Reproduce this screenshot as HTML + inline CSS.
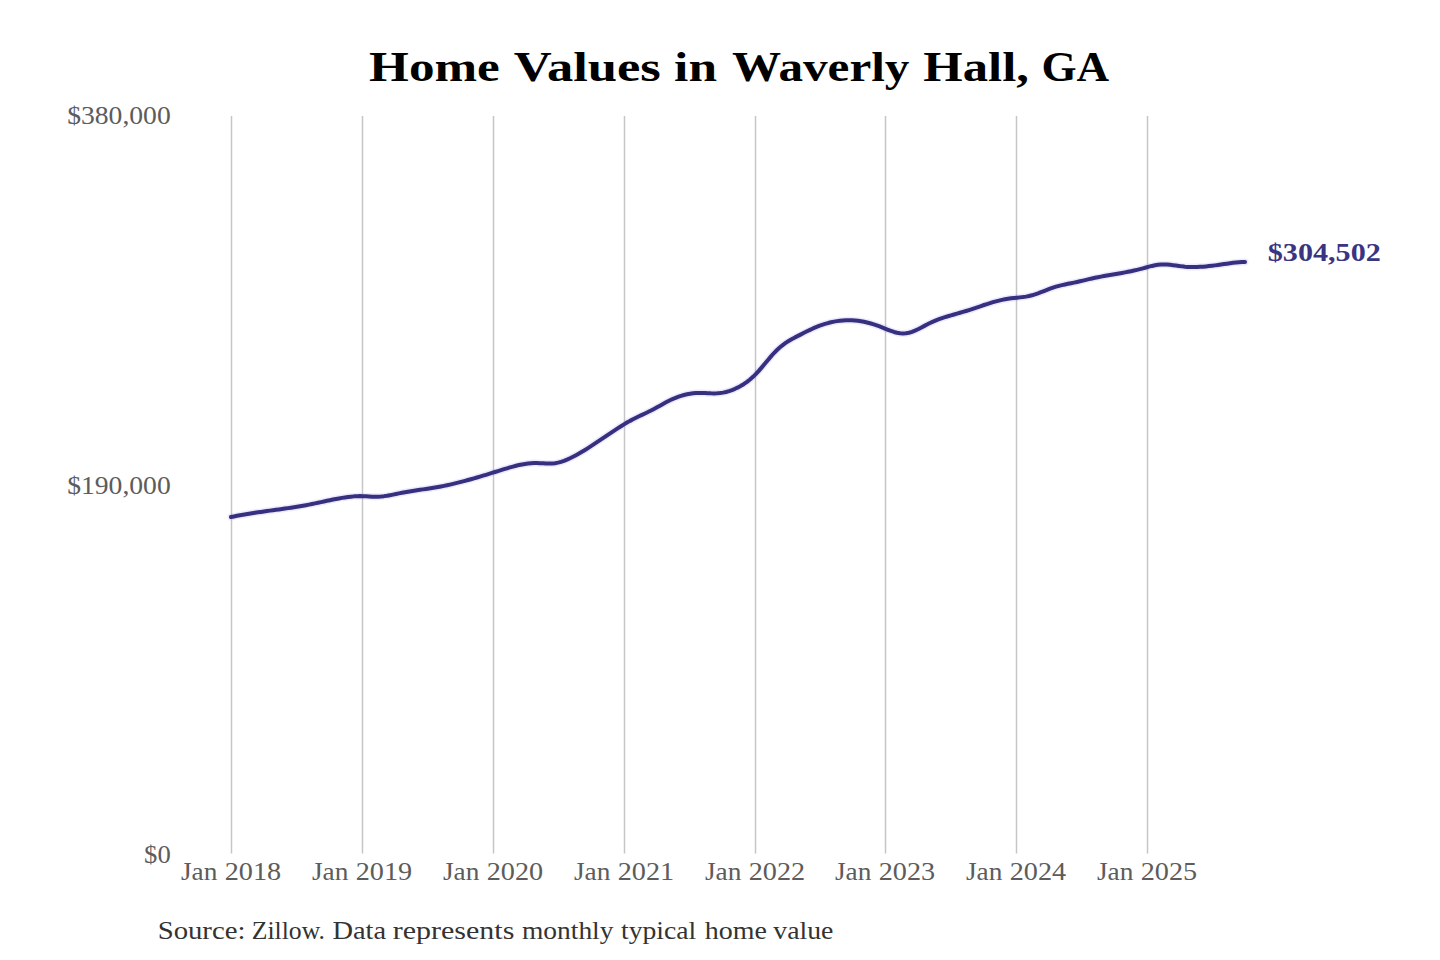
<!DOCTYPE html>
<html><head><meta charset="utf-8"><style>
html,body{margin:0;padding:0;background:#fff;width:1440px;height:960px;overflow:hidden}
svg{position:absolute;left:0;top:0;display:block}
text{font-family:"Liberation Serif", serif}
</style></head><body>
<svg width="1440" height="960" viewBox="0 0 1440 960">
<rect width="1440" height="960" fill="#fff"/>
<text x="369.11" y="81.2" font-size="43" font-weight="bold" fill="#000" textLength="130.71" lengthAdjust="spacingAndGlyphs">Home</text>
<text x="513.79" y="81.2" font-size="43" font-weight="bold" fill="#000" textLength="146.99" lengthAdjust="spacingAndGlyphs">Values</text>
<text x="674.11" y="81.2" font-size="43" font-weight="bold" fill="#000" textLength="42.84" lengthAdjust="spacingAndGlyphs">in</text>
<text x="731.93" y="81.2" font-size="43" font-weight="bold" fill="#000" textLength="177.54" lengthAdjust="spacingAndGlyphs">Waverly</text>
<text x="923.32" y="81.2" font-size="43" font-weight="bold" fill="#000" textLength="105.56" lengthAdjust="spacingAndGlyphs">Hall,</text>
<text x="1041.50" y="81.2" font-size="43" font-weight="bold" fill="#000" textLength="67.66" lengthAdjust="spacingAndGlyphs">GA</text>
<line x1="231.5" y1="116" x2="231.5" y2="853.5" stroke="#c6c6c6" stroke-width="1.5"/>
<line x1="362.5" y1="116" x2="362.5" y2="853.5" stroke="#c6c6c6" stroke-width="1.5"/>
<line x1="493.5" y1="116" x2="493.5" y2="853.5" stroke="#c6c6c6" stroke-width="1.5"/>
<line x1="624.5" y1="116" x2="624.5" y2="853.5" stroke="#c6c6c6" stroke-width="1.5"/>
<line x1="755.5" y1="116" x2="755.5" y2="853.5" stroke="#c6c6c6" stroke-width="1.5"/>
<line x1="885.5" y1="116" x2="885.5" y2="853.5" stroke="#c6c6c6" stroke-width="1.5"/>
<line x1="1016.5" y1="116" x2="1016.5" y2="853.5" stroke="#c6c6c6" stroke-width="1.5"/>
<line x1="1147.5" y1="116" x2="1147.5" y2="853.5" stroke="#c6c6c6" stroke-width="1.5"/>
<text x="67.20" y="124.2" font-size="25" font-weight="normal" fill="#5c5c5c" textLength="103.51" lengthAdjust="spacingAndGlyphs">$380,000</text>
<text x="67.20" y="494.2" font-size="25" font-weight="normal" fill="#5c5c5c" textLength="103.51" lengthAdjust="spacingAndGlyphs">$190,000</text>
<text x="144.13" y="863.4" font-size="25" font-weight="normal" fill="#5c5c5c" textLength="26.63" lengthAdjust="spacingAndGlyphs">$0</text>
<text x="180.95" y="879.6" font-size="25" font-weight="normal" fill="#5c5c5c" textLength="36.40" lengthAdjust="spacingAndGlyphs">Jan</text>
<text x="224.67" y="879.6" font-size="25" font-weight="normal" fill="#5c5c5c" textLength="56.46" lengthAdjust="spacingAndGlyphs">2018</text>
<text x="311.95" y="879.6" font-size="25" font-weight="normal" fill="#5c5c5c" textLength="36.40" lengthAdjust="spacingAndGlyphs">Jan</text>
<text x="355.67" y="879.6" font-size="25" font-weight="normal" fill="#5c5c5c" textLength="56.46" lengthAdjust="spacingAndGlyphs">2019</text>
<text x="442.95" y="879.6" font-size="25" font-weight="normal" fill="#5c5c5c" textLength="36.40" lengthAdjust="spacingAndGlyphs">Jan</text>
<text x="486.67" y="879.6" font-size="25" font-weight="normal" fill="#5c5c5c" textLength="56.46" lengthAdjust="spacingAndGlyphs">2020</text>
<text x="573.95" y="879.6" font-size="25" font-weight="normal" fill="#5c5c5c" textLength="36.40" lengthAdjust="spacingAndGlyphs">Jan</text>
<text x="617.67" y="879.6" font-size="25" font-weight="normal" fill="#5c5c5c" textLength="56.46" lengthAdjust="spacingAndGlyphs">2021</text>
<text x="704.95" y="879.6" font-size="25" font-weight="normal" fill="#5c5c5c" textLength="36.40" lengthAdjust="spacingAndGlyphs">Jan</text>
<text x="748.67" y="879.6" font-size="25" font-weight="normal" fill="#5c5c5c" textLength="56.46" lengthAdjust="spacingAndGlyphs">2022</text>
<text x="834.95" y="879.6" font-size="25" font-weight="normal" fill="#5c5c5c" textLength="36.40" lengthAdjust="spacingAndGlyphs">Jan</text>
<text x="878.67" y="879.6" font-size="25" font-weight="normal" fill="#5c5c5c" textLength="56.46" lengthAdjust="spacingAndGlyphs">2023</text>
<text x="965.95" y="879.6" font-size="25" font-weight="normal" fill="#5c5c5c" textLength="36.40" lengthAdjust="spacingAndGlyphs">Jan</text>
<text x="1009.67" y="879.6" font-size="25" font-weight="normal" fill="#5c5c5c" textLength="56.46" lengthAdjust="spacingAndGlyphs">2024</text>
<text x="1096.95" y="879.6" font-size="25" font-weight="normal" fill="#5c5c5c" textLength="36.40" lengthAdjust="spacingAndGlyphs">Jan</text>
<text x="1140.67" y="879.6" font-size="25" font-weight="normal" fill="#5c5c5c" textLength="56.46" lengthAdjust="spacingAndGlyphs">2025</text>
<path d="M231.0,517.04 L234.0,516.42 L237.0,515.83 L240.0,515.26 L243.0,514.72 L246.0,514.21 L249.0,513.71 L252.0,513.24 L255.0,512.78 L258.0,512.33 L261.0,511.90 L264.0,511.47 L267.0,511.05 L270.0,510.64 L273.0,510.23 L276.0,509.82 L279.0,509.40 L282.0,508.98 L285.0,508.56 L288.0,508.12 L291.0,507.67 L294.0,507.21 L297.0,506.74 L300.0,506.24 L303.0,505.72 L306.0,505.18 L309.0,504.61 L312.0,504.02 L315.0,503.40 L318.0,502.76 L321.0,502.11 L324.0,501.46 L327.0,500.82 L330.0,500.18 L333.0,499.57 L336.0,498.98 L339.0,498.42 L342.0,497.90 L345.0,497.42 L348.0,497.00 L351.0,496.65 L354.0,496.37 L357.0,496.19 L360.0,496.12 L363.0,496.19 L366.0,496.37 L369.0,496.59 L372.0,496.77 L375.0,496.83 L378.0,496.73 L381.0,496.49 L384.0,496.14 L387.0,495.70 L390.0,495.18 L393.0,494.61 L396.0,494.00 L399.0,493.38 L402.0,492.77 L405.0,492.19 L408.0,491.66 L411.0,491.16 L414.0,490.69 L417.0,490.25 L420.0,489.82 L423.0,489.39 L426.0,488.96 L429.0,488.52 L432.0,488.06 L435.0,487.57 L438.0,487.04 L441.0,486.48 L444.0,485.88 L447.0,485.25 L450.0,484.59 L453.0,483.89 L456.0,483.17 L459.0,482.42 L462.0,481.65 L465.0,480.86 L468.0,480.04 L471.0,479.21 L474.0,478.35 L477.0,477.48 L480.0,476.60 L483.0,475.70 L486.0,474.79 L489.0,473.88 L492.0,472.95 L495.0,472.02 L498.0,471.08 L501.0,470.15 L504.0,469.21 L507.0,468.29 L510.0,467.41 L513.0,466.57 L516.0,465.78 L519.0,465.07 L522.0,464.44 L525.0,463.92 L528.0,463.50 L531.0,463.22 L534.0,463.07 L537.0,463.08 L540.0,463.20 L543.0,463.37 L546.0,463.52 L549.0,463.58 L552.0,463.50 L555.0,463.20 L558.0,462.63 L561.0,461.82 L564.0,460.79 L567.0,459.58 L570.0,458.22 L573.0,456.74 L576.0,455.17 L579.0,453.51 L582.0,451.76 L585.0,449.95 L588.0,448.07 L591.0,446.15 L594.0,444.18 L597.0,442.18 L600.0,440.16 L603.0,438.13 L606.0,436.09 L609.0,434.06 L612.0,432.05 L615.0,430.07 L618.0,428.12 L621.0,426.22 L624.0,424.37 L627.0,422.59 L630.0,420.88 L633.0,419.26 L636.0,417.73 L639.0,416.27 L642.0,414.85 L645.0,413.45 L648.0,412.02 L651.0,410.54 L654.0,408.97 L657.0,407.33 L660.0,405.65 L663.0,403.96 L666.0,402.32 L669.0,400.75 L672.0,399.31 L675.0,398.01 L678.0,396.86 L681.0,395.86 L684.0,395.01 L687.0,394.31 L690.0,393.76 L693.0,393.35 L696.0,393.09 L699.0,392.98 L702.0,393.00 L705.0,393.11 L708.0,393.24 L711.0,393.36 L714.0,393.40 L717.0,393.33 L720.0,393.08 L723.0,392.62 L726.0,391.96 L729.0,391.10 L732.0,390.05 L735.0,388.81 L738.0,387.40 L741.0,385.78 L744.0,383.94 L747.0,381.86 L750.0,379.51 L753.0,376.87 L756.0,373.92 L759.0,370.65 L762.0,367.16 L765.0,363.54 L768.0,359.91 L771.0,356.37 L774.0,353.03 L777.0,349.98 L780.0,347.26 L783.0,344.83 L786.0,342.67 L789.0,340.74 L792.0,339.01 L795.0,337.40 L798.0,335.88 L801.0,334.36 L804.0,332.84 L807.0,331.32 L810.0,329.86 L813.0,328.46 L816.0,327.17 L819.0,325.98 L822.0,324.89 L825.0,323.92 L828.0,323.05 L831.0,322.29 L834.0,321.64 L837.0,321.12 L840.0,320.70 L843.0,320.41 L846.0,320.24 L849.0,320.20 L852.0,320.28 L855.0,320.48 L858.0,320.81 L861.0,321.26 L864.0,321.81 L867.0,322.48 L870.0,323.26 L873.0,324.14 L876.0,325.13 L879.0,326.21 L882.0,327.38 L885.0,328.61 L888.0,329.82 L891.0,330.96 L894.0,331.96 L897.0,332.76 L900.0,333.30 L903.0,333.51 L906.0,333.33 L909.0,332.75 L912.0,331.83 L915.0,330.63 L918.0,329.24 L921.0,327.71 L924.0,326.12 L927.0,324.53 L930.0,323.02 L933.0,321.63 L936.0,320.36 L939.0,319.21 L942.0,318.14 L945.0,317.16 L948.0,316.23 L951.0,315.34 L954.0,314.49 L957.0,313.64 L960.0,312.79 L963.0,311.92 L966.0,311.01 L969.0,310.05 L972.0,309.06 L975.0,308.06 L978.0,307.04 L981.0,306.02 L984.0,305.01 L987.0,304.03 L990.0,303.09 L993.0,302.19 L996.0,301.35 L999.0,300.58 L1002.0,299.87 L1005.0,299.26 L1008.0,298.73 L1011.0,298.30 L1014.0,297.97 L1017.0,297.67 L1020.0,297.38 L1023.0,297.05 L1026.0,296.62 L1029.0,296.06 L1032.0,295.31 L1035.0,294.40 L1038.0,293.36 L1041.0,292.23 L1044.0,291.06 L1047.0,289.87 L1050.0,288.72 L1053.0,287.64 L1056.0,286.67 L1059.0,285.83 L1062.0,285.09 L1065.0,284.43 L1068.0,283.81 L1071.0,283.21 L1074.0,282.61 L1077.0,281.97 L1080.0,281.29 L1083.0,280.59 L1086.0,279.87 L1089.0,279.16 L1092.0,278.47 L1095.0,277.80 L1098.0,277.17 L1101.0,276.59 L1104.0,276.03 L1107.0,275.49 L1110.0,274.97 L1113.0,274.46 L1116.0,273.95 L1119.0,273.44 L1122.0,272.92 L1125.0,272.38 L1128.0,271.81 L1131.0,271.21 L1134.0,270.57 L1137.0,269.88 L1140.0,269.12 L1143.0,268.31 L1146.0,267.48 L1149.0,266.66 L1152.0,265.92 L1155.0,265.28 L1158.0,264.81 L1161.0,264.53 L1164.0,264.46 L1167.0,264.57 L1170.0,264.82 L1173.0,265.16 L1176.0,265.56 L1179.0,265.97 L1182.0,266.36 L1185.0,266.68 L1188.0,266.90 L1191.0,267.02 L1194.0,267.05 L1197.0,266.99 L1200.0,266.86 L1203.0,266.67 L1206.0,266.41 L1209.0,266.10 L1212.0,265.75 L1215.0,265.37 L1218.0,264.95 L1221.0,264.52 L1224.0,264.08 L1227.0,263.65 L1230.0,263.23 L1233.0,262.85 L1236.0,262.51 L1239.0,262.23 L1242.0,262.03 L1245.0,261.92" fill="none" stroke="#7a6cff" stroke-opacity="0.14" stroke-width="7" stroke-linecap="round" stroke-linejoin="round"/>
<path d="M231.0,517.04 L234.0,516.42 L237.0,515.83 L240.0,515.26 L243.0,514.72 L246.0,514.21 L249.0,513.71 L252.0,513.24 L255.0,512.78 L258.0,512.33 L261.0,511.90 L264.0,511.47 L267.0,511.05 L270.0,510.64 L273.0,510.23 L276.0,509.82 L279.0,509.40 L282.0,508.98 L285.0,508.56 L288.0,508.12 L291.0,507.67 L294.0,507.21 L297.0,506.74 L300.0,506.24 L303.0,505.72 L306.0,505.18 L309.0,504.61 L312.0,504.02 L315.0,503.40 L318.0,502.76 L321.0,502.11 L324.0,501.46 L327.0,500.82 L330.0,500.18 L333.0,499.57 L336.0,498.98 L339.0,498.42 L342.0,497.90 L345.0,497.42 L348.0,497.00 L351.0,496.65 L354.0,496.37 L357.0,496.19 L360.0,496.12 L363.0,496.19 L366.0,496.37 L369.0,496.59 L372.0,496.77 L375.0,496.83 L378.0,496.73 L381.0,496.49 L384.0,496.14 L387.0,495.70 L390.0,495.18 L393.0,494.61 L396.0,494.00 L399.0,493.38 L402.0,492.77 L405.0,492.19 L408.0,491.66 L411.0,491.16 L414.0,490.69 L417.0,490.25 L420.0,489.82 L423.0,489.39 L426.0,488.96 L429.0,488.52 L432.0,488.06 L435.0,487.57 L438.0,487.04 L441.0,486.48 L444.0,485.88 L447.0,485.25 L450.0,484.59 L453.0,483.89 L456.0,483.17 L459.0,482.42 L462.0,481.65 L465.0,480.86 L468.0,480.04 L471.0,479.21 L474.0,478.35 L477.0,477.48 L480.0,476.60 L483.0,475.70 L486.0,474.79 L489.0,473.88 L492.0,472.95 L495.0,472.02 L498.0,471.08 L501.0,470.15 L504.0,469.21 L507.0,468.29 L510.0,467.41 L513.0,466.57 L516.0,465.78 L519.0,465.07 L522.0,464.44 L525.0,463.92 L528.0,463.50 L531.0,463.22 L534.0,463.07 L537.0,463.08 L540.0,463.20 L543.0,463.37 L546.0,463.52 L549.0,463.58 L552.0,463.50 L555.0,463.20 L558.0,462.63 L561.0,461.82 L564.0,460.79 L567.0,459.58 L570.0,458.22 L573.0,456.74 L576.0,455.17 L579.0,453.51 L582.0,451.76 L585.0,449.95 L588.0,448.07 L591.0,446.15 L594.0,444.18 L597.0,442.18 L600.0,440.16 L603.0,438.13 L606.0,436.09 L609.0,434.06 L612.0,432.05 L615.0,430.07 L618.0,428.12 L621.0,426.22 L624.0,424.37 L627.0,422.59 L630.0,420.88 L633.0,419.26 L636.0,417.73 L639.0,416.27 L642.0,414.85 L645.0,413.45 L648.0,412.02 L651.0,410.54 L654.0,408.97 L657.0,407.33 L660.0,405.65 L663.0,403.96 L666.0,402.32 L669.0,400.75 L672.0,399.31 L675.0,398.01 L678.0,396.86 L681.0,395.86 L684.0,395.01 L687.0,394.31 L690.0,393.76 L693.0,393.35 L696.0,393.09 L699.0,392.98 L702.0,393.00 L705.0,393.11 L708.0,393.24 L711.0,393.36 L714.0,393.40 L717.0,393.33 L720.0,393.08 L723.0,392.62 L726.0,391.96 L729.0,391.10 L732.0,390.05 L735.0,388.81 L738.0,387.40 L741.0,385.78 L744.0,383.94 L747.0,381.86 L750.0,379.51 L753.0,376.87 L756.0,373.92 L759.0,370.65 L762.0,367.16 L765.0,363.54 L768.0,359.91 L771.0,356.37 L774.0,353.03 L777.0,349.98 L780.0,347.26 L783.0,344.83 L786.0,342.67 L789.0,340.74 L792.0,339.01 L795.0,337.40 L798.0,335.88 L801.0,334.36 L804.0,332.84 L807.0,331.32 L810.0,329.86 L813.0,328.46 L816.0,327.17 L819.0,325.98 L822.0,324.89 L825.0,323.92 L828.0,323.05 L831.0,322.29 L834.0,321.64 L837.0,321.12 L840.0,320.70 L843.0,320.41 L846.0,320.24 L849.0,320.20 L852.0,320.28 L855.0,320.48 L858.0,320.81 L861.0,321.26 L864.0,321.81 L867.0,322.48 L870.0,323.26 L873.0,324.14 L876.0,325.13 L879.0,326.21 L882.0,327.38 L885.0,328.61 L888.0,329.82 L891.0,330.96 L894.0,331.96 L897.0,332.76 L900.0,333.30 L903.0,333.51 L906.0,333.33 L909.0,332.75 L912.0,331.83 L915.0,330.63 L918.0,329.24 L921.0,327.71 L924.0,326.12 L927.0,324.53 L930.0,323.02 L933.0,321.63 L936.0,320.36 L939.0,319.21 L942.0,318.14 L945.0,317.16 L948.0,316.23 L951.0,315.34 L954.0,314.49 L957.0,313.64 L960.0,312.79 L963.0,311.92 L966.0,311.01 L969.0,310.05 L972.0,309.06 L975.0,308.06 L978.0,307.04 L981.0,306.02 L984.0,305.01 L987.0,304.03 L990.0,303.09 L993.0,302.19 L996.0,301.35 L999.0,300.58 L1002.0,299.87 L1005.0,299.26 L1008.0,298.73 L1011.0,298.30 L1014.0,297.97 L1017.0,297.67 L1020.0,297.38 L1023.0,297.05 L1026.0,296.62 L1029.0,296.06 L1032.0,295.31 L1035.0,294.40 L1038.0,293.36 L1041.0,292.23 L1044.0,291.06 L1047.0,289.87 L1050.0,288.72 L1053.0,287.64 L1056.0,286.67 L1059.0,285.83 L1062.0,285.09 L1065.0,284.43 L1068.0,283.81 L1071.0,283.21 L1074.0,282.61 L1077.0,281.97 L1080.0,281.29 L1083.0,280.59 L1086.0,279.87 L1089.0,279.16 L1092.0,278.47 L1095.0,277.80 L1098.0,277.17 L1101.0,276.59 L1104.0,276.03 L1107.0,275.49 L1110.0,274.97 L1113.0,274.46 L1116.0,273.95 L1119.0,273.44 L1122.0,272.92 L1125.0,272.38 L1128.0,271.81 L1131.0,271.21 L1134.0,270.57 L1137.0,269.88 L1140.0,269.12 L1143.0,268.31 L1146.0,267.48 L1149.0,266.66 L1152.0,265.92 L1155.0,265.28 L1158.0,264.81 L1161.0,264.53 L1164.0,264.46 L1167.0,264.57 L1170.0,264.82 L1173.0,265.16 L1176.0,265.56 L1179.0,265.97 L1182.0,266.36 L1185.0,266.68 L1188.0,266.90 L1191.0,267.02 L1194.0,267.05 L1197.0,266.99 L1200.0,266.86 L1203.0,266.67 L1206.0,266.41 L1209.0,266.10 L1212.0,265.75 L1215.0,265.37 L1218.0,264.95 L1221.0,264.52 L1224.0,264.08 L1227.0,263.65 L1230.0,263.23 L1233.0,262.85 L1236.0,262.51 L1239.0,262.23 L1242.0,262.03 L1245.0,261.92" fill="none" stroke="#36307f" stroke-width="4" stroke-linecap="round" stroke-linejoin="round"/>
<text x="1267.79" y="260.8" font-size="25" font-weight="bold" fill="#3b3482" textLength="113.01" lengthAdjust="spacingAndGlyphs">$304,502</text>
<text x="157.65" y="938.5" font-size="24.5" font-weight="normal" fill="#333" textLength="87.82" lengthAdjust="spacingAndGlyphs">Source:</text>
<text x="251.69" y="938.5" font-size="24.5" font-weight="normal" fill="#333" textLength="73.32" lengthAdjust="spacingAndGlyphs">Zillow.</text>
<text x="332.43" y="938.5" font-size="24.5" font-weight="normal" fill="#333" textLength="53.66" lengthAdjust="spacingAndGlyphs">Data</text>
<text x="392.69" y="938.5" font-size="24.5" font-weight="normal" fill="#333" textLength="121.63" lengthAdjust="spacingAndGlyphs">represents</text>
<text x="521.94" y="938.5" font-size="24.5" font-weight="normal" fill="#333" textLength="91.55" lengthAdjust="spacingAndGlyphs">monthly</text>
<text x="621.02" y="938.5" font-size="24.5" font-weight="normal" fill="#333" textLength="75.26" lengthAdjust="spacingAndGlyphs">typical</text>
<text x="704.71" y="938.5" font-size="24.5" font-weight="normal" fill="#333" textLength="62.16" lengthAdjust="spacingAndGlyphs">home</text>
<text x="773.30" y="938.5" font-size="24.5" font-weight="normal" fill="#333" textLength="60.12" lengthAdjust="spacingAndGlyphs">value</text>
</svg></body></html>
